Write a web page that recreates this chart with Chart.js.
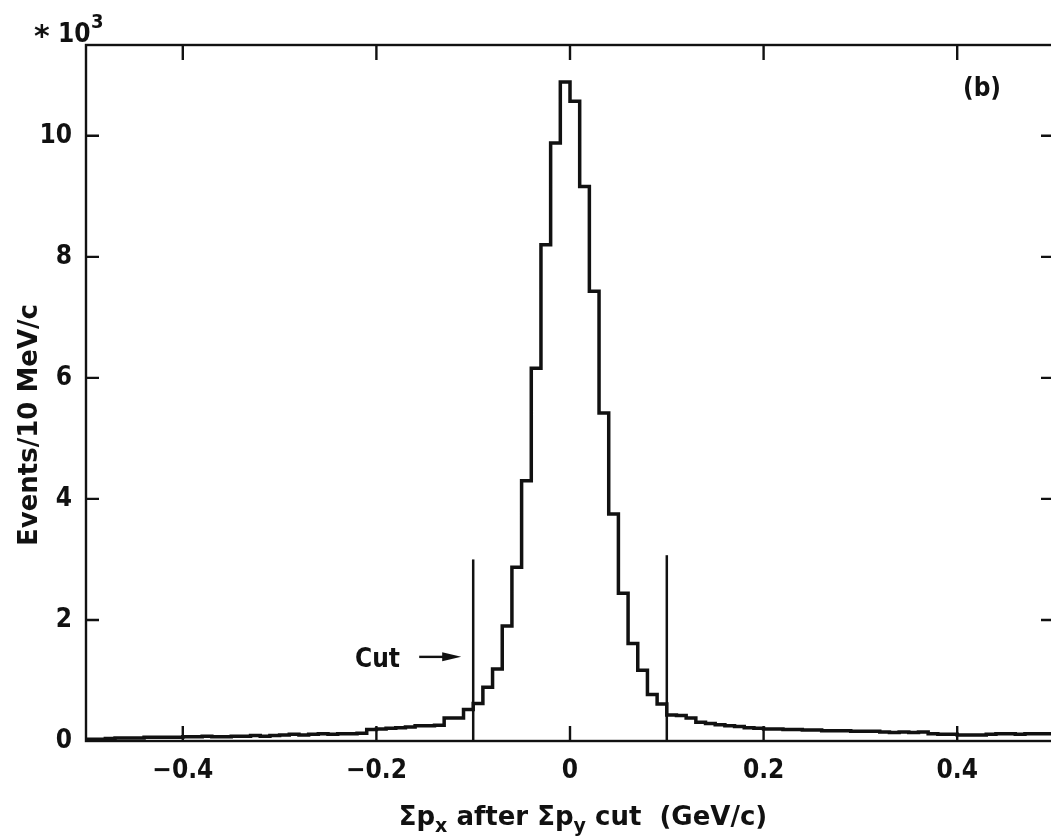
<!DOCTYPE html>
<html>
<head>
<meta charset="utf-8">
<title>Sum px after Sum py cut</title>
<script src="https://cdn.jsdelivr.net/npm/chart.js@4.4.1/dist/chart.umd.min.js"></script>
<style>
  html, body { margin: 0; padding: 0; background: #fff; overflow: hidden; }
  #wrap { width: 1060px; height: 837px; }
</style>
</head>
<body>
<div id="wrap"><canvas id="c" width="1060" height="837"></canvas></div>
<script>
// Histogram binning: 10 MeV/c bins from -0.5 to +0.5 GeV/c
const BIN_START = -0.5;
const BIN_WIDTH = 0.01;

// Events per bin (in units of 10^3), split into tail / core / tail
const leftTail = [
  0.03, 0.03, 0.04, 0.05, 0.05, 0.05, 0.06, 0.06, 0.06, 0.06,
  0.07, 0.07, 0.08, 0.07, 0.07, 0.08, 0.08, 0.09, 0.08, 0.09,
  0.10, 0.11, 0.10, 0.11, 0.12, 0.11, 0.12, 0.12, 0.13, 0.19,
  0.20, 0.21, 0.22, 0.23, 0.25, 0.25, 0.26, 0.38, 0.38, 0.52
];
const peakRegion = [
  0.62, 0.89, 1.19, 1.90, 2.87, 4.30, 6.16, 8.20, 9.88, 10.89,
  10.57, 9.16, 7.43, 5.42, 3.75, 2.44, 1.61, 1.17, 0.77, 0.61
];
const rightTail = [
  0.43, 0.42, 0.38, 0.31, 0.29, 0.27, 0.25, 0.24, 0.22, 0.21,
  0.20, 0.20, 0.19, 0.19, 0.18, 0.18, 0.17, 0.17, 0.17, 0.16,
  0.16, 0.16, 0.15, 0.14, 0.15, 0.14, 0.15, 0.12, 0.11, 0.11,
  0.10, 0.10, 0.10, 0.11, 0.12, 0.12, 0.11, 0.12, 0.12, 0.12
];

const xTickValues = [-0.4, -0.2, 0, 0.2, 0.4];
const yTickValues = [0, 2, 4, 6, 8, 10];

// Selection cut at |sum px| = 0.1 GeV/c
const cutPositions = [-0.1, 0.1];
const cutHeights = [3.0, 3.07];

const FONT = '"DejaVu Sans", "Liberation Sans", sans-serif';
const NUM_FONT = '"DejaVu Sans Condensed", "DejaVu Sans", sans-serif';
const INK = '#111';

const counts = leftTail.concat(peakRegion, rightTail);
const histPoints = counts.map((v, i) => ({ x: BIN_START + i * BIN_WIDTH, y: v }));
histPoints.push({ x: BIN_START + counts.length * BIN_WIDTH, y: counts[counts.length - 1] });

const cutSets = cutPositions.map((p, i) => ({
  data: [{ x: p, y: 0 }, { x: p, y: cutHeights[i] }],
  borderColor: INK, borderWidth: 2.5, pointRadius: 0, fill: false
}));

function fmtTick(v) {
  if (v === 0) return '0';
  return (v < 0 ? '\u2212' : '') + Math.abs(v).toFixed(1);
}

const frame = {
  id: 'frame',
  afterDraw(chart) {
    const { ctx, chartArea: a, scales: { x, y } } = chart;
    ctx.save();
    ctx.strokeStyle = INK;
    ctx.fillStyle = INK;
    ctx.lineWidth = 2.4;
    ctx.strokeRect(a.left, a.top, a.right - a.left, a.bottom - a.top);

    // inward tick marks on all four sides
    ctx.beginPath();
    xTickValues.forEach(v => {
      const px = x.getPixelForValue(v);
      ctx.moveTo(px, a.bottom); ctx.lineTo(px, a.bottom - 15);
      ctx.moveTo(px, a.top); ctx.lineTo(px, a.top + 15);
    });
    yTickValues.forEach(v => {
      if (v === 0) return;
      const py = y.getPixelForValue(v);
      ctx.moveTo(a.left, py); ctx.lineTo(a.left + 13, py);
      ctx.moveTo(a.right, py); ctx.lineTo(a.right - 13, py);
    });
    ctx.stroke();

    // scale factor marker
    ctx.textAlign = 'left';
    ctx.textBaseline = 'alphabetic';
    ctx.font = 'bold 30px ' + FONT;
    ctx.fillText('*', 34, 46);
    ctx.font = 'bold 26px ' + NUM_FONT;
    ctx.fillText('10', 58, 42);
    ctx.font = 'bold 20px ' + NUM_FONT;
    ctx.fillText('3', 91, 28);

    // panel label
    ctx.font = 'bold 26px ' + NUM_FONT;
    ctx.textAlign = 'center';
    ctx.fillText('(b)', 982, 96);

    // "Cut" with arrow pointing at the left cut line
    const cx = x.getPixelForValue(cutPositions[0]);
    const ay = y.getPixelForValue(1.39);
    ctx.textAlign = 'left';
    ctx.font = 'bold 26px ' + NUM_FONT;
    ctx.fillText('Cut', 355, y.getPixelForValue(1.22));
    ctx.lineWidth = 2.4;
    ctx.beginPath();
    ctx.moveTo(cx - 54, ay); ctx.lineTo(cx - 26, ay);
    ctx.stroke();
    ctx.beginPath();
    ctx.moveTo(cx - 12, ay);
    ctx.lineTo(cx - 31, ay - 4.5);
    ctx.lineTo(cx - 31, ay + 4.5);
    ctx.closePath();
    ctx.fill();

    // y-axis title
    ctx.save();
    ctx.translate(37, 425);
    ctx.rotate(-Math.PI / 2);
    ctx.textAlign = 'center';
    ctx.font = 'bold 26px ' + FONT;
    ctx.fillText('Events/10 MeV/c', 0, 0);
    ctx.restore();

    // x-axis title with subscripts
    const parts = [
      ['\u03A3p', 26, 0], ['x', 19, 7], [' after ', 26, 0], ['\u03A3p', 26, 0],
      ['y', 19, 7], [' cut  (GeV/c)', 26, 0]
    ];
    let total = 0;
    parts.forEach(p => { ctx.font = 'bold ' + p[1] + 'px ' + FONT; total += ctx.measureText(p[0]).width; });
    let tx = 583 - total / 2;
    ctx.textAlign = 'left';
    parts.forEach(p => {
      ctx.font = 'bold ' + p[1] + 'px ' + FONT;
      ctx.fillText(p[0], tx, 825 + p[2]);
      tx += ctx.measureText(p[0]).width;
    });
    ctx.restore();
  }
};

new Chart(document.getElementById('c'), {
  type: 'line',
  data: {
    datasets: [{
      data: histPoints,
      stepped: 'before',
      borderColor: INK,
      borderWidth: 3.5,
      pointRadius: 0,
      fill: false,
      borderJoinStyle: 'miter'
    }].concat(cutSets)
  },
  options: {
    responsive: false,
    animation: false,
    devicePixelRatio: 1,
    layout: { padding: { top: 45, right: 6, left: 0, bottom: 0 } },
    plugins: { legend: { display: false }, tooltip: { enabled: false } },
    scales: {
      x: {
        type: 'linear', min: -0.5, max: 0.5,
        afterBuildTicks: s => { s.ticks = xTickValues.map(v => ({ value: v })); },
        afterFit: s => { s.height = 96; },
        grid: { display: false, drawTicks: false },
        border: { display: false },
        ticks: {
          color: INK, padding: 15, maxRotation: 0, autoSkip: false,
          font: { family: NUM_FONT, size: 26, weight: 'bold' }, callback: fmtTick
        }
      },
      y: {
        type: 'linear', min: 0, max: 11.5,
        afterBuildTicks: s => { s.ticks = yTickValues.map(v => ({ value: v })); },
        afterFit: s => { s.width = 86; },
        grid: { display: false, drawTicks: false },
        border: { display: false },
        ticks: {
          color: INK, padding: 14, autoSkip: false,
          font: { family: NUM_FONT, size: 26, weight: 'bold' }, callback: v => String(v)
        }
      }
    }
  },
  plugins: [frame]
});
</script>
</body>
</html>
